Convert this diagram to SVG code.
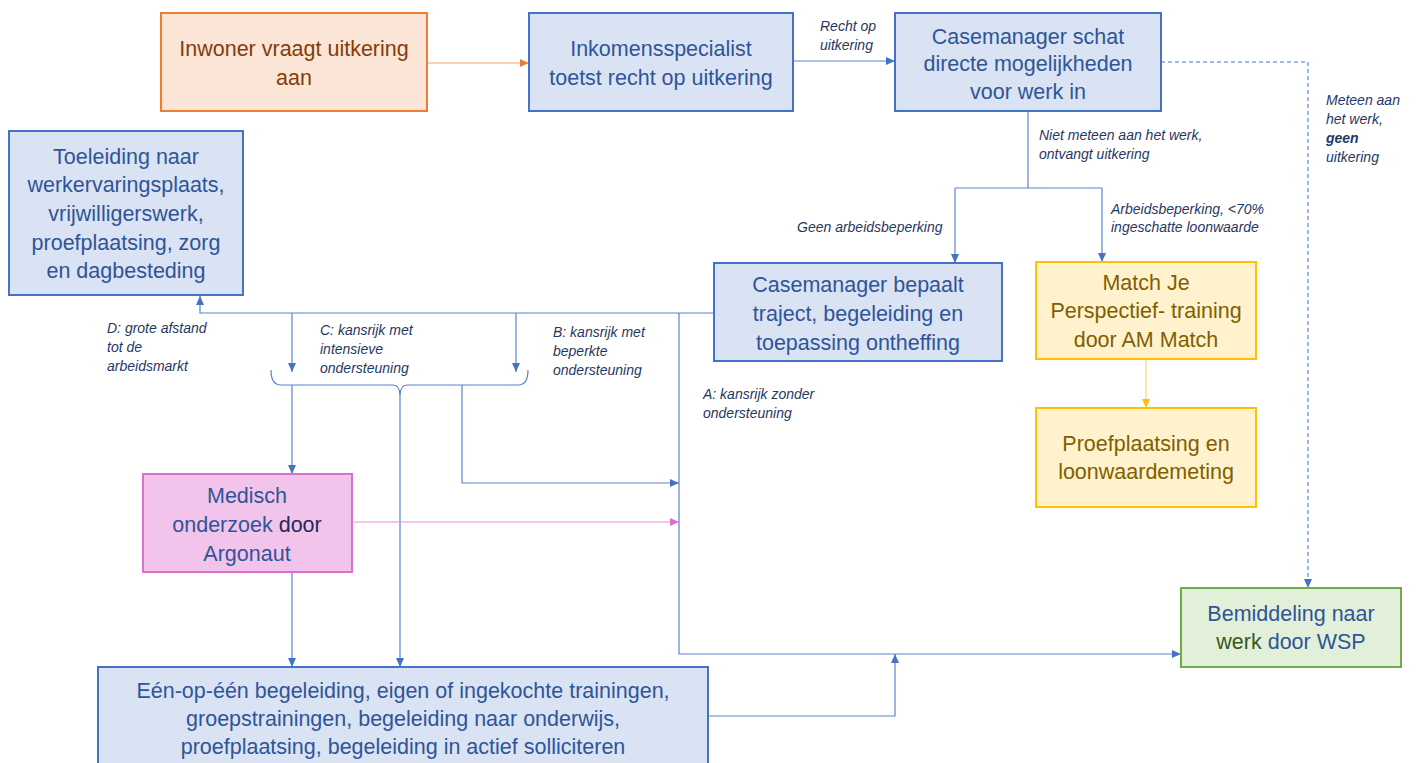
<svg xmlns="http://www.w3.org/2000/svg" width="1417" height="763" viewBox="0 0 1417 763">
<style>
.n{font-family:"Liberation Sans",Arial,sans-serif;font-size:21.5px;text-anchor:middle}
.bl rect{fill:#dae3f3;stroke:#4472c4;stroke-width:2}
.bl text{fill:#2f5597}
.lb{font-family:"Liberation Sans",Arial,sans-serif;font-size:14px;font-style:italic;fill:#1f3864}
.c{fill:none;stroke:#5b83d1;stroke-width:1.2}
</style>
<defs>
<marker id="ab" markerWidth="10" markerHeight="10" refX="9" refY="5" orient="auto" markerUnits="userSpaceOnUse"><path d="M0,1 L9,5 L0,9 z" fill="#4472c4"/></marker>
<marker id="ao" markerWidth="10" markerHeight="10" refX="9" refY="5" orient="auto" markerUnits="userSpaceOnUse"><path d="M0,1 L9,5 L0,9 z" fill="#ed7d31"/></marker>
<marker id="ay" markerWidth="10" markerHeight="10" refX="9" refY="5" orient="auto" markerUnits="userSpaceOnUse"><path d="M0,1 L9,5 L0,9 z" fill="#ffc000"/></marker>
<marker id="ap" markerWidth="10" markerHeight="10" refX="9" refY="5" orient="auto" markerUnits="userSpaceOnUse"><path d="M0,1 L9,5 L0,9 z" fill="#da6fd0"/></marker>
</defs>
<rect width="1417" height="763" fill="#ffffff"/>

<g id="connectors">
<path d="M427,63 H529" fill="none" stroke="#f4a36c" stroke-width="1.2" marker-end="url(#ao)"/>
<path class="c" d="M793,61 H895" marker-end="url(#ab)"/>
<path d="M1161,62 H1308 V588" fill="none" stroke="#4472c4" stroke-width="1" stroke-dasharray="4,3" marker-end="url(#ab)"/>
<path class="c" d="M1028,111 V188"/>
<path class="c" d="M955,188 H1102"/>
<path class="c" d="M955,188 V263" marker-end="url(#ab)"/>
<path class="c" d="M1102,188 V262" marker-end="url(#ab)"/>
<path d="M1146,359 V408" fill="none" stroke="#ffd966" stroke-width="1.2" marker-end="url(#ay)"/>
<path class="c" d="M714,313 H200 V296" marker-end="url(#ab)"/>
<path class="c" d="M292,313 V372" marker-end="url(#ab)"/>
<path class="c" d="M516,313 V372" marker-end="url(#ab)"/>
<path class="c" d="M679,313 V654 H1181" marker-end="url(#ab)"/>
<path class="c" d="M271,370 Q271,385 281,385 H393 Q400,385 400,396 Q400,385 407,385 H518 Q528,385 528,370"/>
<path class="c" d="M292,385 V474" marker-end="url(#ab)"/>
<path class="c" d="M400,396 V667" marker-end="url(#ab)"/>
<path class="c" d="M462,385 V483 H679" marker-end="url(#ab)"/>
<path d="M352,522 H679" fill="none" stroke="#e48fdc" stroke-width="1.2" marker-end="url(#ap)"/>
<path class="c" d="M292,572 V667" marker-end="url(#ab)"/>
<path class="c" d="M708,716 H895 V654" marker-end="url(#ab)"/>
</g>

<g id="labels">
<text class="lb" x="820" y="31">Recht op</text>
<text class="lb" x="820" y="50">uitkering</text>
<text class="lb" x="1326" y="105">Meteen aan</text>
<text class="lb" x="1326" y="124">het werk,</text>
<text class="lb" x="1326" y="143" font-weight="bold">geen</text>
<text class="lb" x="1326" y="162">uitkering</text>
<text class="lb" x="1039" y="140">Niet meteen aan het werk,</text>
<text class="lb" x="1039" y="159">ontvangt uitkering</text>
<text class="lb" x="797" y="232">Geen arbeidsbeperking</text>
<text class="lb" x="1111" y="214">Arbeidsbeperking, &lt;70%</text>
<text class="lb" x="1111" y="232">ingeschatte loonwaarde</text>
<text class="lb" x="107" y="333">D: grote afstand</text>
<text class="lb" x="107" y="352">tot de</text>
<text class="lb" x="107" y="371">arbeidsmarkt</text>
<text class="lb" x="320" y="335">C: kansrijk met</text>
<text class="lb" x="320" y="354">intensieve</text>
<text class="lb" x="320" y="373">ondersteuning</text>
<text class="lb" x="553" y="337">B: kansrijk met</text>
<text class="lb" x="553" y="356">beperkte</text>
<text class="lb" x="553" y="375">ondersteuning</text>
<text class="lb" x="703" y="399">A: kansrijk zonder</text>
<text class="lb" x="703" y="418">ondersteuning</text>
</g>

<g id="inwoner">
<rect x="161" y="13" width="266" height="98" fill="#fbe5d6" stroke="#ed7d31" stroke-width="2"/>
<text class="n" fill="#843c0c"><tspan x="294" y="56">Inwoner vraagt uitkering</tspan><tspan x="294" y="85">aan</tspan></text>
</g>

<g id="inkomensspecialist" class="bl">
<rect x="529" y="13" width="264" height="98"/>
<text class="n"><tspan x="661" y="56">Inkomensspecialist</tspan><tspan x="661" y="85">toetst recht op uitkering</tspan></text>
</g>

<g id="casemanager-schat" class="bl">
<rect x="895" y="13" width="266" height="98"/>
<text class="n"><tspan x="1028" y="44">Casemanager schat</tspan><tspan x="1028" y="71">directe mogelijkheden</tspan><tspan x="1028" y="99">voor werk in</tspan></text>
</g>

<g id="toeleiding" class="bl">
<rect x="9" y="131" width="234" height="164"/>
<text class="n"><tspan x="126" y="164">Toeleiding naar</tspan><tspan x="126" y="192">werkervaringsplaats,</tspan><tspan x="126" y="221">vrijwilligerswerk,</tspan><tspan x="126" y="250">proefplaatsing, zorg</tspan><tspan x="126" y="278">en dagbesteding</tspan></text>
</g>

<g id="casemanager-bepaalt" class="bl">
<rect x="714" y="263" width="288" height="98"/>
<text class="n"><tspan x="858" y="292">Casemanager bepaalt</tspan><tspan x="858" y="321">traject, begeleiding en</tspan><tspan x="858" y="350">toepassing ontheffing</tspan></text>
</g>

<g id="match-je-perspectief">
<rect x="1036" y="262" width="220" height="97" fill="#fff2cc" stroke="#ffc000" stroke-width="2"/>
<text class="n" fill="#7f6000"><tspan x="1146" y="290">Match Je</tspan><tspan x="1146" y="318">Perspectief- training</tspan><tspan x="1146" y="347">door AM Match</tspan></text>
</g>

<g id="proefplaatsing">
<rect x="1036" y="408" width="220" height="99" fill="#fff2cc" stroke="#ffc000" stroke-width="2"/>
<text class="n" fill="#7f6000"><tspan x="1146" y="451">Proefplaatsing en</tspan><tspan x="1146" y="479">loonwaardemeting</tspan></text>
</g>

<g id="medisch-onderzoek">
<rect x="143" y="474" width="209" height="98" fill="#f2c4ec" stroke="#da6fd0" stroke-width="2"/>
<text class="n" fill="#2f5597"><tspan x="247" y="503">Medisch</tspan><tspan x="247" y="532">onderzoek <tspan fill="#1f2a5a">door</tspan></tspan><tspan x="247" y="561">Argonaut</tspan></text>
</g>

<g id="begeleiding" class="bl">
<rect x="98" y="667" width="610" height="100"/>
<text class="n"><tspan x="403" y="698">Eén-op-één begeleiding, eigen of ingekochte trainingen,</tspan><tspan x="403" y="726">groepstrainingen, begeleiding naar onderwijs,</tspan><tspan x="403" y="754">proefplaatsing, begeleiding in actief solliciteren</tspan></text>
</g>

<g id="bemiddeling">
<rect x="1181" y="588" width="220" height="79" fill="#e2f0d9" stroke="#70ad47" stroke-width="2"/>
<text class="n" fill="#2f5597"><tspan x="1291" y="621">Bemiddeling naar</tspan><tspan x="1291" y="649"><tspan fill="#385723">werk</tspan> door WSP</tspan></text>
</g>
</svg>
